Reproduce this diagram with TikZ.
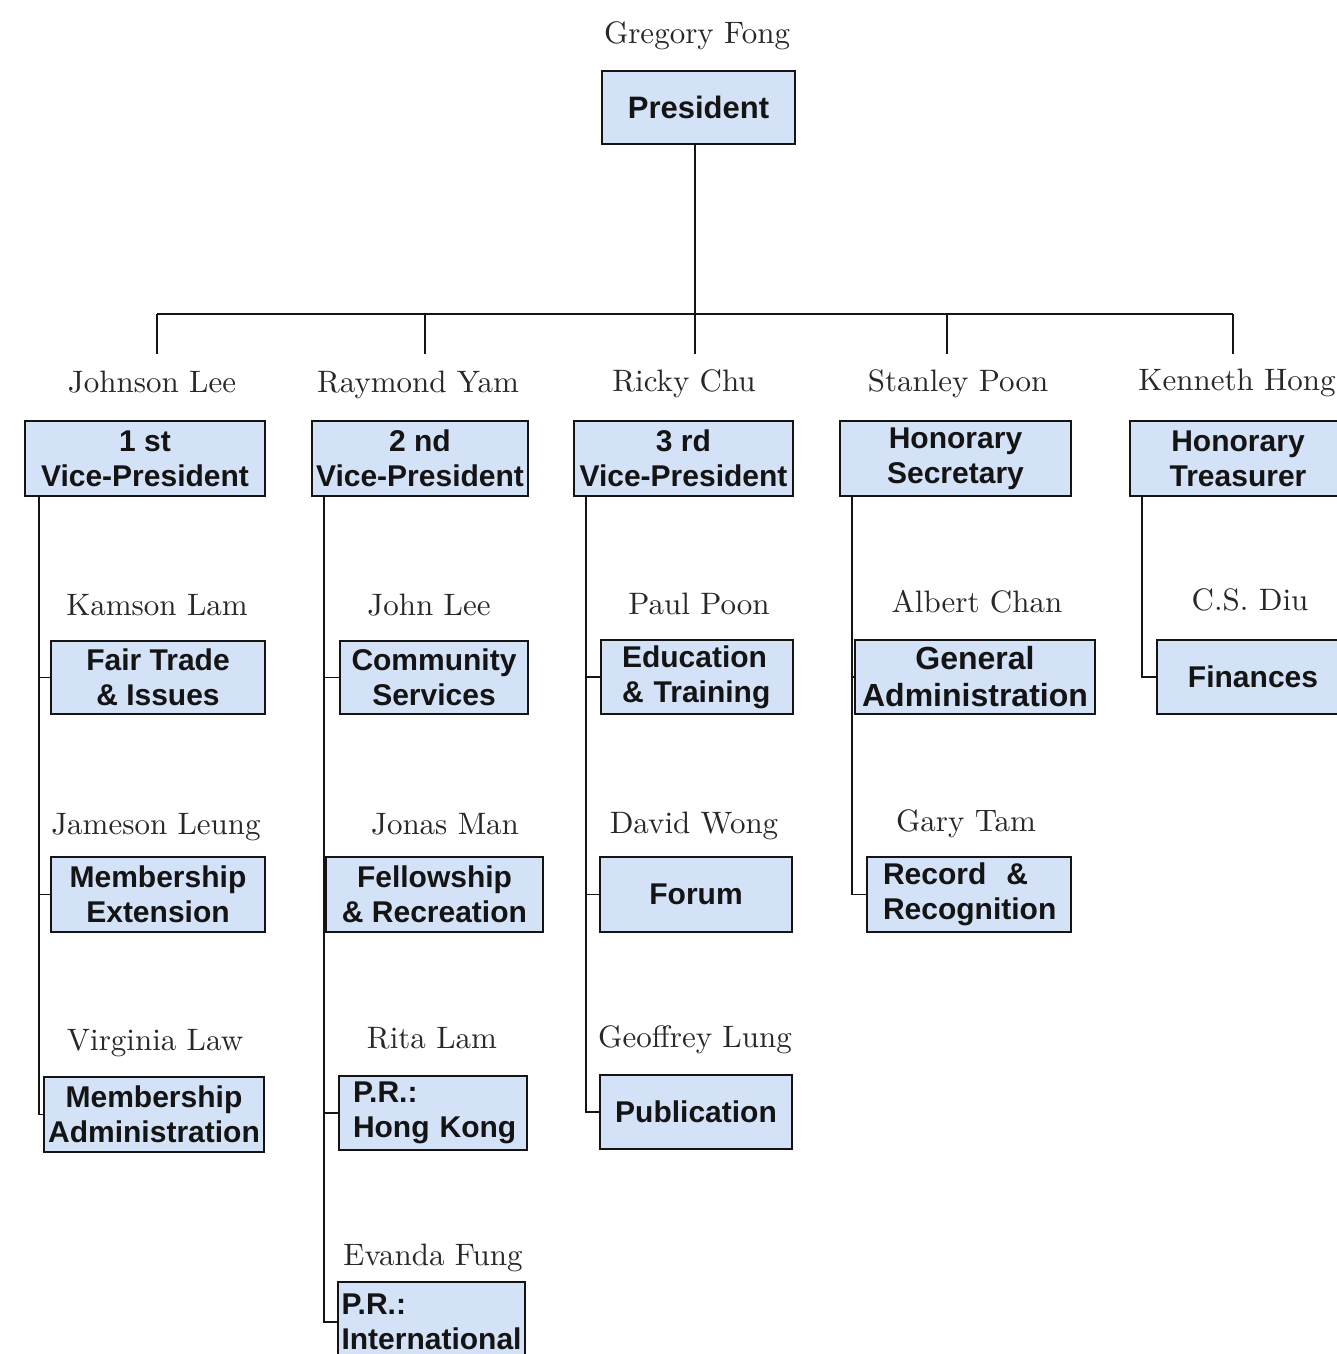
\documentclass[tikz,border=0pt]{standalone}
\usepackage{fontspec}
\setsansfont{Liberation Sans}
\newfontfamily\namefont{lmroman10-regular.otf}
\definecolor{boxfill}{RGB}{212,226,248}
\definecolor{ink}{RGB}{20,20,20}
\definecolor{nameink}{RGB}{40,40,40}
\begin{document}
\begin{tikzpicture}[x=1pt,y=-1pt,
  box/.style={draw=ink, line width=1.8pt, fill=boxfill, text=ink,
    font=\sffamily\bfseries\fontsize{30}{35}\selectfont, align=center,
    inner sep=0pt, minimum height=75pt},
  pname/.style={anchor=base, text=nameink, font=\namefont\fontsize{31}{36}\selectfont, inner sep=0pt},
  link/.style={draw=ink, line width=1.6pt}]
\useasboundingbox (0,0) rectangle (1337,1354);
\clip (0,0) rectangle (1337,1354);

% ---- boxes ----
\node[box, minimum width=193pt, minimum height=73pt, font=\sffamily\bfseries\fontsize{31}{35}\selectfont] (pres) at (698.5,107.5) {President};

\node[box, minimum width=240pt] (vp1) at (145,458.5) {1 st\\Vice-President};
\node[box, minimum width=216pt] (vp2) at (420,458.5) {2 nd\\Vice-President};
\node[box, minimum width=219pt] (vp3) at (683.5,458.5) {3 rd\\Vice-President};
\node[box, minimum width=231pt] (vp4) at (955.5,458.5) {Honorary\\Secretary};
\node[box, minimum width=216pt] (vp5) at (1238,458.5) {Honorary\\Treasurer};

\node[box, minimum width=214pt, minimum height=73pt] (c11) at (158,677.5) {Fair Trade\\\& Issues};
\node[box, minimum width=214pt] (c12) at (158,894.5) {Membership\\Extension};
\node[box, minimum width=220pt] (c13) at (154,1114.5) {Membership\\Administration};

\node[box, minimum width=188pt, minimum height=73pt] (c21) at (434,677.5) {Community\\Services};
\node[box, minimum width=217pt] (c22) at (434.5,894.5) {Fellowship\\\& Recreation};
\node[box, minimum width=188pt, minimum height=74pt, align=left, text width=160pt] (c23) at (433,1113) {P.R.:\\Hong~Kong};
\node[box, minimum width=187pt, minimum height=80pt, align=left, text width=180pt] (c24) at (431.5,1322) {P.R.:\\International};

\node[box, minimum width=192pt, minimum height=74pt, align=left, text width=150pt] (c31) at (697,677) {Education\\\& Training};
\node[box, minimum width=192pt] (c32) at (696,894.5) {Forum};
\node[box, minimum width=192pt, minimum height=74pt] (c33) at (696,1112) {Publication};

\node[box, minimum width=240pt, minimum height=74pt, font=\sffamily\bfseries\fontsize{32}{37}\selectfont] (c41) at (975,677) {General\\Administration};
\node[box, minimum width=204pt, align=left, text width=172pt] (c42) at (969,894.5) {Record\ \ \&\\Recognition};

\node[box, minimum width=192pt, minimum height=74pt] (c51) at (1253,677) {Finances};

% ---- names ----
\node[pname] (n0) at (697,44) {Gregory Fong};
\node[pname] (n1) at (152,392) {Johnson Lee};
\node[pname] (n2) at (418,392) {Raymond Yam};
\node[pname] (n3) at (684,391) {Ricky Chu};
\node[pname] (n4) at (958,391) {Stanley Poon};
\node[pname] (n5) at (1237,390) {Kenneth Hong};
\node[pname] (n11) at (157,615) {Kamson Lam};
\node[pname] (n12) at (156,834) {Jameson Leung};
\node[pname] (n13) at (155,1050) {Virginia Law};
\node[pname] (n21) at (429,615) {John Lee};
\node[pname] (n22) at (445,834) {Jonas Man};
\node[pname] (n23) at (432,1048) {Rita Lam};
\node[pname] (n24) at (433,1265) {Evanda Fung};
\node[pname] (n31) at (699,614) {Paul Poon};
\node[pname] (n32) at (694,833) {David Wong};
\node[pname] (n33) at (695,1047) {Geoffrey Lung};
\node[pname] (n41) at (977,612) {Albert Chan};
\node[pname] (n42) at (966,831) {Gary Tam};
\node[pname] (n51) at (1250,610) {C.S. Diu};

% ---- top tree ----
\coordinate (t1) at (157,314);
\coordinate (t2) at (425,314);
\coordinate (t3) at (695,314);
\coordinate (t4) at (947,314);
\coordinate (t5) at (1233,314);
\coordinate (d1) at (157,354);
\coordinate (d2) at (425,354);
\coordinate (d3) at (695,354);
\coordinate (d4) at (947,354);
\coordinate (d5) at (1233,354);
\draw[link] (pres.south -| t3) -- (t3);
\draw[link] (t1) -- (t5);
\foreach \i in {1,...,5} \draw[link] (t\i) -- (d\i);

% ---- branches ----
\foreach \c in {c11,c12,c13} \draw[link] ([xshift=15pt]vp1.south west) |- (\c.west);
\foreach \c in {c21,c22,c23,c24} \draw[link] ([xshift=13pt]vp2.south west) |- (\c.west);
\foreach \c in {c31,c32,c33} \draw[link] ([xshift=13pt]vp3.south west) |- (\c.west);
\foreach \c in {c41,c42} \draw[link] ([xshift=13pt]vp4.south west) |- (\c.west);
\draw[link] ([xshift=13pt]vp5.south west) |- (c51.west);
\end{tikzpicture}
\end{document}
